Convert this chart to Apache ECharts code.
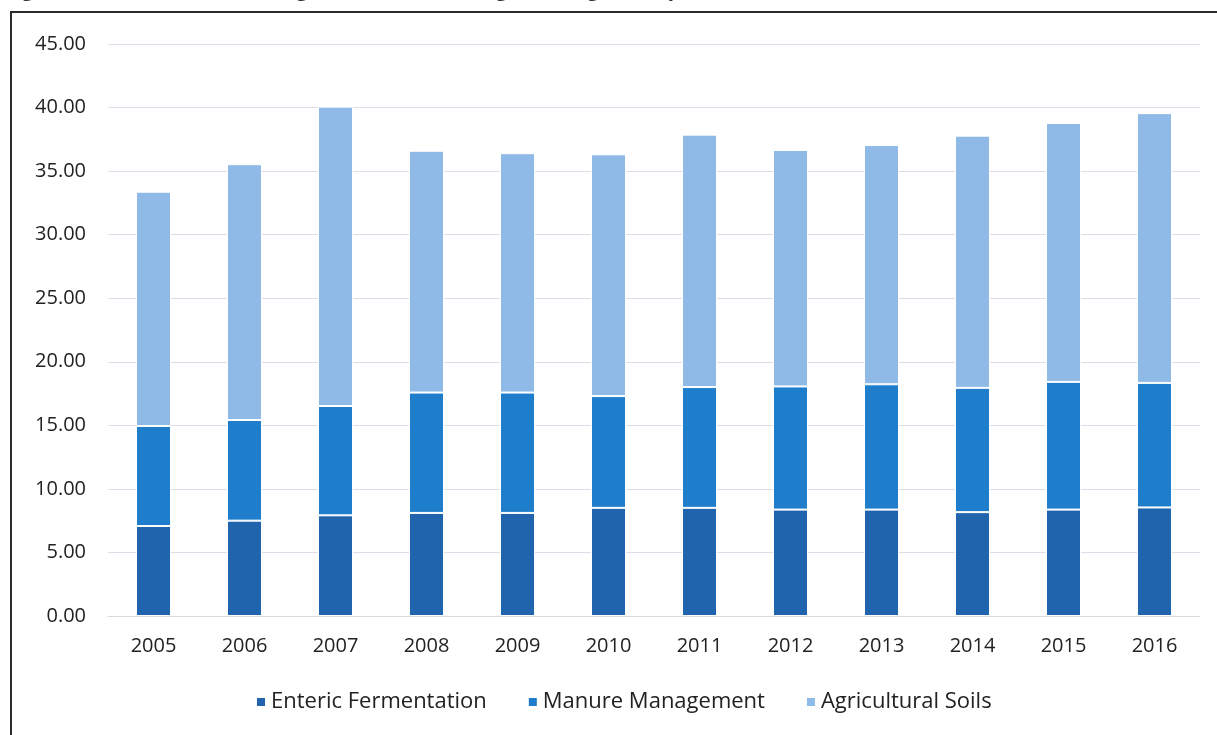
<!DOCTYPE html>
<html>
<head>
<meta charset="utf-8">
<script src="https://cdn.jsdelivr.net/npm/echarts@6/dist/echarts.min.js"></script>
<style>
  html, body { margin: 0; padding: 0; background: #fff; }
  #chart { width: 1217px; height: 735px; }
</style>
</head>
<body>
<div id="chart"></div>
<script>
// years on the category axis
const years = ["2005", "2006", "2007", "2008", "2009", "2010", "2011", "2012", "2013", "2014", "2015", "2016"];

// Gg CO2 eq
const enteric = [7.08, 7.50, 7.92, 8.11, 8.11, 8.51, 8.51, 8.37, 8.37, 8.17, 8.37, 8.54];
const manure = [7.87, 7.92, 8.60, 9.47, 9.47, 8.79, 9.50, 9.69, 9.86, 9.78, 10.05, 9.80];
const soils = [18.43, 20.12, 23.55, 19.02, 18.83, 19.02, 19.86, 18.60, 18.82, 19.84, 20.37, 21.22];

const font = "'Open Sans', 'Noto Sans', sans-serif";

function barSeries(name, data, color) {
  return {
    name: name,
    type: "bar",
    stack: "total",
    barWidth: 35,
    data: data,
    itemStyle: { color: color, borderColor: "#ffffff", borderWidth: 1 },
  };
}

const chart = echarts.init(document.getElementById("chart"));
chart.setOption({
  animation: false,
  backgroundColor: "#ffffff",
  textStyle: { fontFamily: font },
  graphic: [
    // frame lines of the scanned figure
    { type: "line", shape: { x1: 11, y1: 12, x2: 11, y2: 735 }, style: { stroke: "#2a2a2a", lineWidth: 2 } },
    { type: "line", shape: { x1: 10, y1: 12, x2: 1217, y2: 12 }, style: { stroke: "#2a2a2a", lineWidth: 2 } },
    {
      type: "text",
      left: 4,
      top: -20,
      style: {
        text: "Figure 5.1: Emissions from Agriculture Sub-categories (Gg CO\u2082 eq)",
        font: "bold 21px " + font,
        fill: "#333",
      },
    },
  ],
  legend: {
    left: 250,
    top: 686,
    icon: "rect",
    itemWidth: 10,
    itemHeight: 10,
    itemGap: 40,
    textStyle: { fontSize: 22, color: "#222", fontFamily: font },
    data: ["Enteric Fermentation", "Manure Management", "Agricultural Soils"],
  },
  grid: { left: 108, right: 17, top: 44, bottom: 119 },
  xAxis: {
    type: "category",
    data: years,
    axisTick: { show: false },
    axisLine: { lineStyle: { color: "#d9d9e0", width: 1 } },
    axisLabel: { fontSize: 20, color: "#222", margin: 20, fontFamily: font },
  },
  yAxis: {
    type: "value",
    min: 0,
    max: 45,
    interval: 5,
    axisLabel: {
      fontSize: 20,
      color: "#222",
      margin: 22,
      fontFamily: font,
      formatter: (v) => v.toFixed(2),
    },
    splitLine: { lineStyle: { color: "#dcdde8", width: 1 } },
  },
  series: [
    barSeries("Enteric Fermentation", enteric, "#1f64ad"),
    barSeries("Manure Management", manure, "#1e7ecb"),
    barSeries("Agricultural Soils", soils, "#8fb9e7"),
  ],
});
</script>
</body>
</html>
